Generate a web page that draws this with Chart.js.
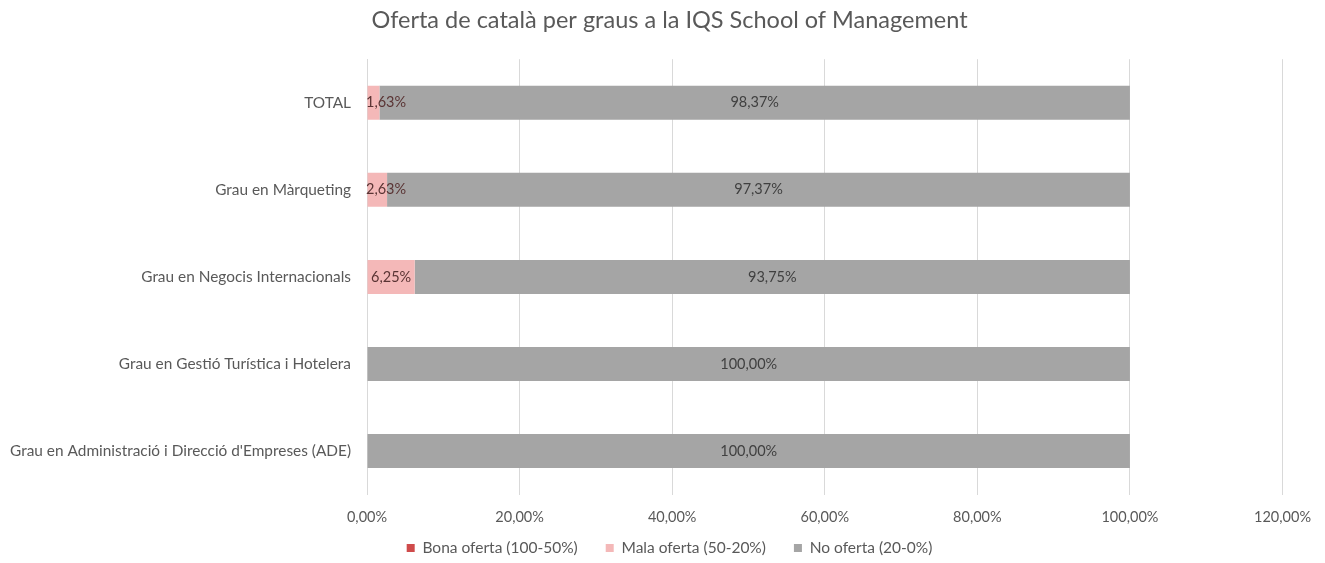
<!DOCTYPE html>
<html>
<head>
<meta charset="utf-8">
<script src="https://cdn.jsdelivr.net/npm/chart.js@4"></script>
<style>
  html, body { margin: 0; padding: 0; background: #fff; }
  #wrap { width: 1325px; height: 563px; }
</style>
</head>
<body>
<div id="wrap"><canvas id="grafica" width="1325" height="563"></canvas></div>
<script>
const categories = [
  'TOTAL',
  'Grau en Màrqueting',
  'Grau en Negocis Internacionals',
  'Grau en Gestió Turística i Hotelera',
  "Grau en Administració i Direcció d'Empreses (ADE)"
];
const bonaOferta = [0, 0, 0, 0, 0];
const malaOferta = [1.63, 2.63, 6.25, 0, 0];
const noOferta = [98.37, 97.37, 93.75, 100, 100];
const xTicks = [0, 20, 40, 60, 80, 100, 120];

const pct = v => v.toFixed(2).replace('.', ',') + '%';

// etiquetes de dades dins les barres (com Excel)
const etiquetes = {
  id: 'etiquetes',
  afterDatasetsDraw(chart) {
    const ctx = chart.ctx;
    const area = chart.chartArea;
    ctx.save();
    ctx.font = '14.5px Lato';
    ctx.textBaseline = 'middle';
    ctx.textAlign = 'left';
    chart.data.datasets.forEach((ds, i) => {
      const meta = chart.getDatasetMeta(i);
      meta.data.forEach((bar, j) => {
        const v = ds.data[j];
        if (!v) return;
        const txt = pct(v);
        const w = ctx.measureText(txt).width;
        const mid = (bar.x + bar.base) / 2;
        let x = mid - w / 2;
        if (x < area.left - 1) x = area.left - 1;
        ctx.fillStyle = ds.labelColor;
        ctx.fillText(txt, x, bar.y);
      });
    });
    ctx.restore();
  }
};

// títol i llegenda centrats com a l'original; llegenda més espaiada sense ocupar alçada
const posicions = {
  id: 'posicions',
  beforeDraw(chart) {
    const lg = chart.legend;
    const pad = lg.options.labels.padding;
    lg.top = 548 - 7.75 - pad;
    lg.left = 56;
    chart.titleBlock.left = 56;
  }
};

new Chart(document.getElementById('grafica'), {
  type: 'bar',
  data: {
    labels: categories,
    datasets: [
      { label: 'Bona oferta (100-50%)', data: bonaOferta, backgroundColor: '#cf4b4b', labelColor: '#404040' },
      { label: 'Mala oferta (50-20%)', data: malaOferta, backgroundColor: '#f4b8b8', labelColor: '#5a3434' },
      { label: 'No oferta (20-0%)', data: noOferta, backgroundColor: '#a5a5a5', labelColor: '#404040' }
    ]
  },
  options: {
    indexAxis: 'y',
    responsive: false,
    animation: false,
    layout: { padding: { top: 6, right: 42, bottom: 0, left: 0 } },
    datasets: { bar: { barPercentage: 0.39, categoryPercentage: 1 } },
    scales: {
      x: {
        stacked: true,
        min: 0,
        max: 120,
        afterBuildTicks: s => { s.ticks = xTicks.map(v => ({ value: v })); },
        grid: { color: '#d9d9d9', drawTicks: false },
        border: { display: false },
        ticks: {
          padding: 14,
          color: '#595959',
          font: { family: 'Lato', size: 14.5 },
          callback: v => pct(v)
        }
      },
      y: {
        stacked: true,
        grid: { display: false, drawTicks: false },
        border: { color: '#d9d9d9' },
        afterFit: s => { s.width = 367; },
        ticks: {
          padding: 16,
          color: '#595959',
          font: { family: 'Lato', size: 15.4 }
        }
      }
    },
    plugins: {
      title: {
        display: true,
        text: 'Oferta de català per graus a la IQS School of Management',
        color: '#595959',
        font: { family: 'Lato', size: 23.5, weight: 'normal' },
        padding: { top: 0, bottom: 25 }
      },
      legend: {
        position: 'bottom',
        maxHeight: 23,
        labels: {
          color: '#595959',
          font: { family: 'Lato', size: 15.5 },
          boxWidth: 8,
          boxHeight: 8,
          padding: 28
        }
      },
      tooltip: { enabled: false }
    }
  },
  plugins: [etiquetes, posicions]
});
</script>
</body>
</html>
